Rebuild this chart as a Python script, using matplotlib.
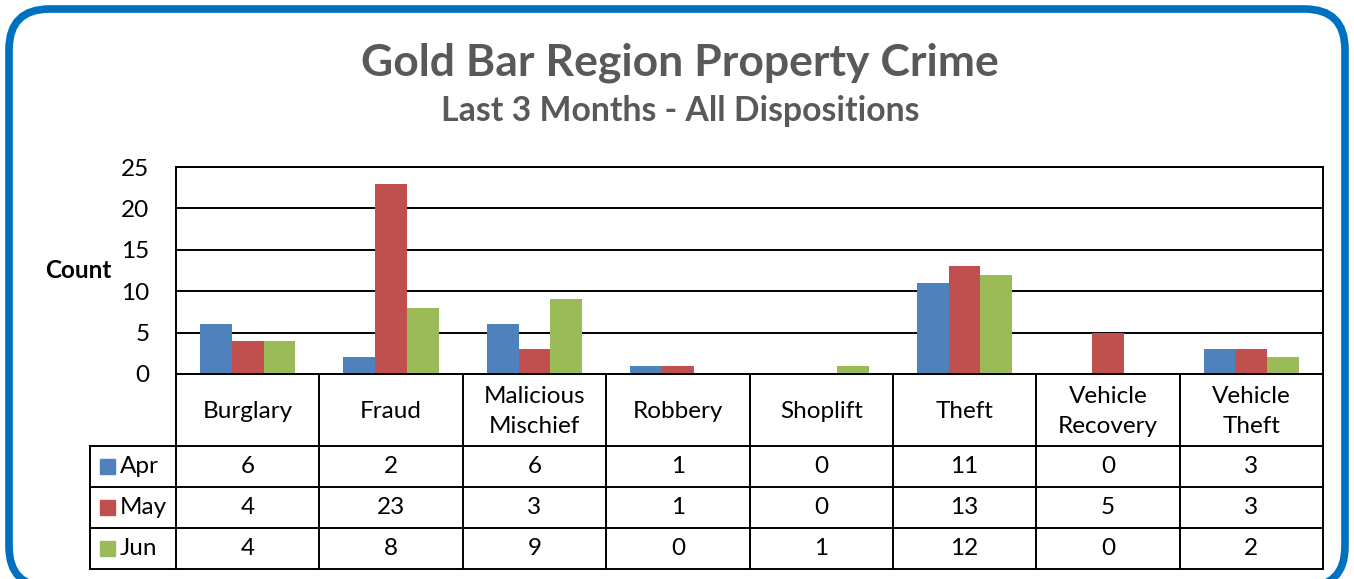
import matplotlib.pyplot as plt
from matplotlib.patches import FancyBboxPatch, Rectangle
import numpy as np

plt.rcParams.update({
    "font.family": ["Lato", "DejaVu Sans"],
    "font.size": 17,
})

# data
categories = ['Burglary', 'Fraud', 'Malicious\nMischief', 'Robbery', 'Shoplift',
              'Theft', 'Vehicle\nRecovery', 'Vehicle\nTheft']
months = ['Apr', 'May', 'Jun']
apr = [6, 2, 6, 1, 0, 11, 0, 3]
may = [4, 23, 3, 1, 0, 13, 5, 3]
jun = [4, 8, 9, 0, 1, 12, 0, 2]
colors = ['#4F81BD', '#C0504D', '#9BBB59']
series = [apr, may, jun]

W, H = 1354, 579
fig = plt.figure(figsize=(W / 100, H / 100), dpi=100)

def px(x0, y0, x1, y1):
    # pixel box (top-left origin) -> figure fraction rect
    return [x0 / W, 1 - y1 / H, (x1 - x0) / W, (y1 - y0) / H]

# rounded blue frame
frame = FancyBboxPatch((9 / W, -8 / H), (W - 18) / W, (H - 1) / H,
                       boxstyle="round,pad=0,rounding_size=0.03",
                       transform=fig.transFigure, facecolor='none',
                       edgecolor='#0070C0', linewidth=5.5, zorder=5,
                       mutation_aspect=W / H)
fig.patches.append(frame)

fig.text(680 / W, 1 - 63 / H, 'Gold Bar Region Property Crime', ha='center', va='center',
         fontsize=32, fontweight='bold', color='#595959')
fig.text(680 / W, 1 - 111 / H, 'Last 3 Months - All Dispositions', ha='center', va='center',
         fontsize=24.3, fontweight='bold', color='#595959')

# bar chart
ax = fig.add_axes(px(176, 167, 1323, 374))
x = np.arange(len(categories))
bw = 0.222
for i, (vals, c) in enumerate(zip(series, colors)):
    ax.bar(x + (i - 1) * bw, vals, width=bw, color=c, zorder=3)
ax.set_xlim(-0.5, len(categories) - 0.5)
ax.set_ylim(0, 25)
ax.set_yticks(range(0, 26, 5))
ax.yaxis.grid(True, color='black', linewidth=1.4, zorder=1)
ax.set_xticks([])
ax.tick_params(axis='y', length=0, pad=19, labelsize=17.5)
for s in ax.spines.values():
    s.set_linewidth(1.4)
ax.text(-1.18, 12.5, 'Count', transform=ax.transData, ha='center', va='center',
        fontsize=17.5, fontweight='bold')

# data table
tab = fig.add_axes(px(90, 374, 1323, 569))
tab.set_xlim(-1.1, len(categories) - 0.5)
tab.set_ylim(195, 0)
tab.axis('off')
hdr = 72
rh = 41
lw = 1.4
for k in range(len(categories) + 1):
    tab.plot([k - 0.5, k - 0.5], [0, hdr + 3 * rh], color='black', lw=lw, clip_on=False)
tab.plot([-1.1, -1.1], [hdr, hdr + 3 * rh], color='black', lw=lw, clip_on=False)
tab.plot([-0.5, len(categories) - 0.5], [0, 0], color='black', lw=lw, clip_on=False)
for r in range(4):
    tab.plot([-1.1, len(categories) - 0.5], [hdr + r * rh] * 2, color='black', lw=lw,
             clip_on=False)
for k, name in enumerate(categories):
    tab.text(k, hdr / 2 + 1.5, name, ha='center', va='center', fontsize=17.5,
             linespacing=1.55)
for r, (m, vals, c) in enumerate(zip(months, series, colors)):
    yc = hdr + r * rh + rh / 2
    tab.add_patch(Rectangle((-1.03, yc - 7.5), 0.105, 15, color=c, clip_on=False))
    tab.text(-0.89, yc, m, ha='left', va='center', fontsize=17.5)
    for k, v in enumerate(vals):
        tab.text(k, yc, str(v), ha='center', va='center', fontsize=17.5)

fig.savefig('out.png', dpi=100)
